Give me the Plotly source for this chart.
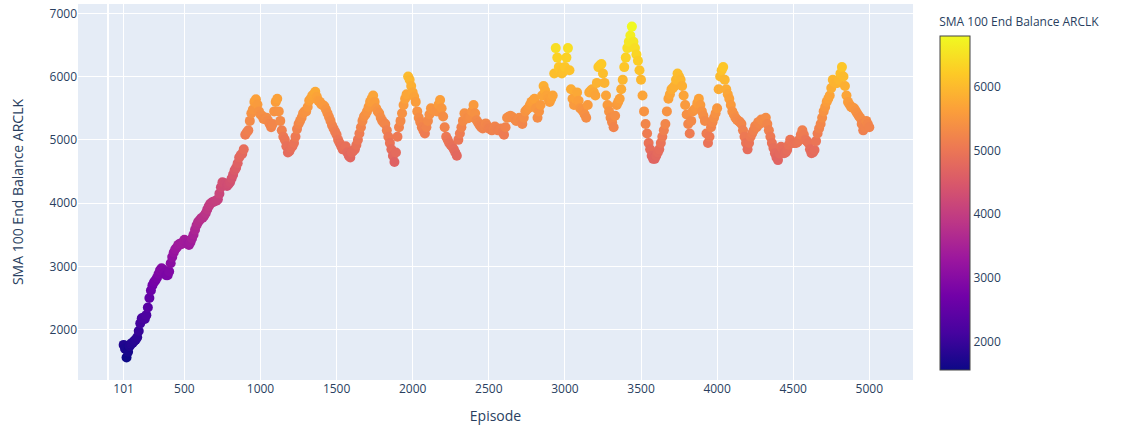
import plotly.graph_objects as go

# Episodes sampled every 10 steps from the first full SMA window (101) to 5000
episodes = [101] + list(range(110, 5001, 10))

# 100-episode simple moving average of the end balance
sma_balance = [
    1760, 1700,
    1560, 1650, 1740, 1780, 1790, 1820, 1840, 1880, 1980,               # 120-200
    2100, 2180, 2190, 2170, 2230, 2350, 2500, 2620, 2700, 2750,         # 210-300
    2780, 2820, 2880, 2940, 2970, 2950, 2900, 2860, 2860, 2920,         # 310-400
    3050, 3150, 3220, 3270, 3300, 3340, 3360, 3350, 3380, 3420,         # 410-500
    3400, 3360, 3340, 3380, 3440, 3500, 3580, 3650, 3700, 3730,         # 510-600
    3760, 3770, 3800, 3840, 3900, 3950, 3990, 4010, 4020, 4030,         # 610-700
    4040, 4060, 4150, 4250, 4330, 4320, 4300, 4270, 4300, 4330,         # 710-800
    4390, 4450, 4520, 4560, 4630, 4720, 4760, 4780, 4850, 5080,         # 810-900
    5120, 5150, 5300, 5420, 5480, 5600, 5640, 5560, 5450, 5400,         # 910-1000
    5380, 5330, 5330, 5350, 5300, 5250, 5200, 5250, 5450, 5600,         # 1010-1100
    5650, 5450, 5300, 5150, 5050, 5000, 4900, 4800, 4820, 4870,         # 1110-1200
    4900, 4950, 5050, 5170, 5250, 5300, 5350, 5420, 5450, 5450,         # 1210-1300
    5520, 5620, 5650, 5700, 5720, 5760, 5680, 5620, 5600, 5560,         # 1310-1400
    5550, 5530, 5480, 5420, 5360, 5300, 5230, 5180, 5130, 5080,         # 1410-1500
    5000, 4950, 4900, 4850, 4880, 4900, 4800, 4750, 4720, 4800,         # 1510-1600
    4830, 4850, 4920, 5000, 5100, 5200, 5300, 5370, 5400, 5450,         # 1610-1700
    5520, 5600, 5650, 5700, 5600, 5500, 5450, 5420, 5350, 5300,         # 1710-1800
    5270, 5250, 5150, 5050, 4950, 4850, 4750, 4650, 4800, 5050,         # 1810-1900
    5200, 5300, 5420, 5550, 5650, 5720, 6000, 5950, 5850, 5750,         # 1910-2000
    5680, 5600, 5450, 5350, 5280, 5200, 5150, 5100, 5200, 5300,         # 2010-2100
    5400, 5500, 5480, 5470, 5460, 5450, 5560, 5630, 5500, 5370,         # 2110-2200
    5200, 5050, 5000, 4950, 4920, 4890, 4850, 4800, 4750, 5000,         # 2210-2300
    5100, 5200, 5300, 5420, 5380, 5340, 5350, 5370, 5450, 5550,         # 2310-2400
    5420, 5310, 5270, 5230, 5200, 5180, 5220, 5260, 5220, 5180,         # 2410-2500
    5170, 5150, 5180, 5210, 5180, 5150, 5160, 5180, 5120, 5080,         # 2510-2600
    5200, 5350, 5360, 5380, 5370, 5350, 5330, 5300, 5320, 5350,         # 2610-2700
    5300, 5250, 5350, 5450, 5480, 5500, 5550, 5600, 5620, 5650,         # 2710-2800
    5500, 5350, 5450, 5550, 5700, 5850, 5780, 5700, 5650, 5600,         # 2810-2900
    5650, 5700, 6050, 6450, 6300, 6150, 6100, 6050, 6080, 6150,         # 2910-3000
    6300, 6450, 6100, 5800, 5650, 5550, 5650, 5750, 5620, 5500,         # 3010-3100
    5480, 5450, 5400, 5350, 5550, 5750, 5780, 5800, 5750, 5700,         # 3110-3200
    5900, 6150, 6180, 6200, 6050, 5900, 5700, 5550, 5450, 5350,         # 3210-3300
    5280, 5200, 5380, 5550, 5600, 5650, 5800, 5950, 6150, 6300,         # 3310-3400
    6450, 6550, 6650, 6790, 6550, 6450, 6350, 6250, 6100, 5950,         # 3410-3500
    5700, 5450, 5250, 5100, 4950, 4850, 4750, 4700, 4700, 4750,         # 3510-3600
    4800, 4850, 4950, 5050, 5150, 5250, 5450, 5650, 5720, 5800,         # 3610-3700
    5820, 5850, 5950, 6050, 6000, 5950, 5850, 5700, 5550, 5400,         # 3710-3800
    5250, 5100, 5300, 5450, 5480, 5500, 5580, 5650, 5550, 5450,         # 3810-3900
    5380, 5300, 5100, 4950, 5050, 5200, 5280, 5350, 5420, 5500,         # 3910-4000
    5800, 6000, 6100, 6150, 5950, 5800, 5720, 5650, 5550, 5450,         # 4010-4100
    5400, 5350, 5320, 5300, 5280, 5250, 5150, 5050, 4950, 4850,         # 4110-4200
    4950, 5050, 5100, 5150, 5220, 5200, 5280, 5250, 5320, 5300,         # 4210-4300
    5320, 5350, 5250, 5150, 5050, 4950, 4870, 4790, 4720, 4680,         # 4310-4400
    4780, 4890, 4850, 4790, 4800, 4840, 4920, 5000, 4970, 4950,         # 4410-4500
    4950, 4950, 4970, 5000, 5080, 5150, 5080, 5000, 4980, 4950,         # 4510-4600
    4850, 4790, 4800, 4840, 4980, 5100, 5180, 5250, 5350, 5450,         # 4610-4700
    5520, 5600, 5650, 5700, 5820, 5950, 5920, 5900, 5900, 5950,         # 4710-4800
    6050, 6150, 6000, 5850, 5700, 5600, 5560, 5520, 5510, 5500,         # 4810-4900
    5460, 5420, 5380, 5350, 5250, 5150, 5200, 5300, 5250, 5200,         # 4910-5000
]

if len(episodes) != len(sma_balance):
    raise ValueError("episodes and sma_balance must have the same length")

x_tick_values = [101, 500, 1000, 1500, 2000, 2500, 3000, 3500, 4000, 4500, 5000]
x_tick_labels = [str(v) for v in x_tick_values]

metric_name = "SMA 100 End Balance ARCLK"

fig = go.Figure(
    go.Scatter(
        x=episodes,
        y=sma_balance,
        mode="markers",
        marker=dict(
            size=10,
            color=sma_balance,
            colorscale="Plasma",
            cmin=min(sma_balance),
            cmax=max(sma_balance),
            colorbar=dict(
                title=dict(text=metric_name, font=dict(size=12)),
                thickness=30,
            ),
        ),
        showlegend=False,
    )
)

fig.update_layout(
    template="plotly",
    width=1122,
    height=432,
    margin=dict(l=78, r=209, t=4, b=52, autoexpand=False),
    xaxis=dict(
        title=dict(text="Episode"),
        tickvals=x_tick_values,
        ticktext=x_tick_labels,
        range=[-199, 5287],
    ),
    yaxis=dict(
        title=dict(text=metric_name, standoff=22),
        range=[1205, 7147],
    ),
)

fig.write_html("out.html")
